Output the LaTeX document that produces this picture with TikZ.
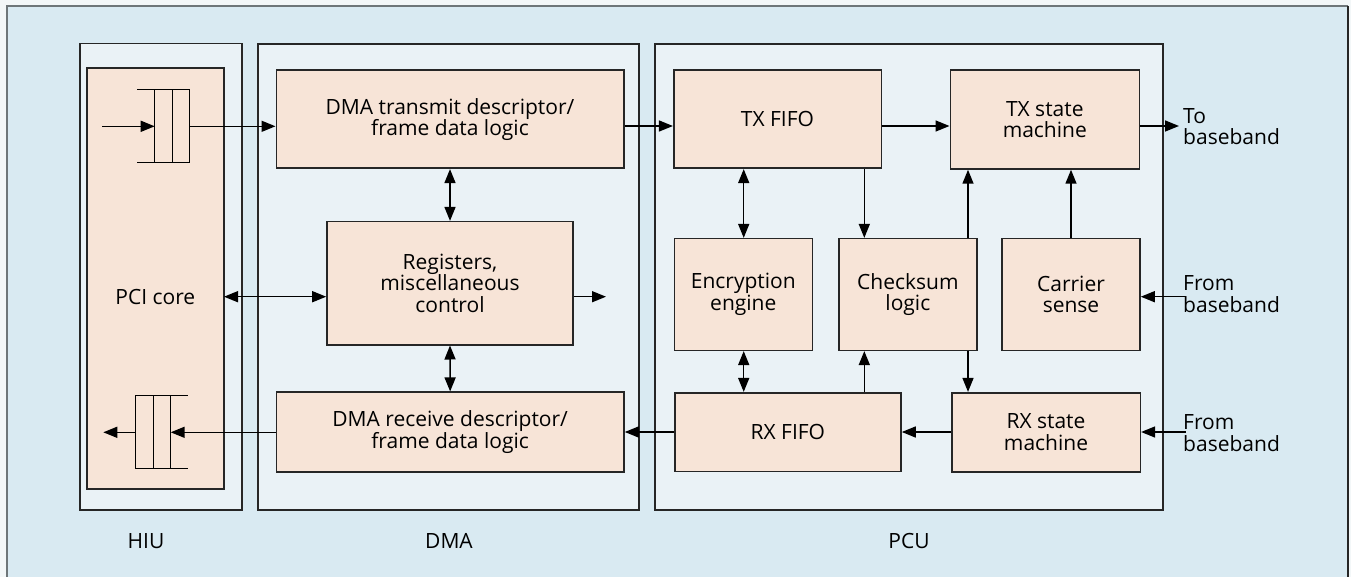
\documentclass[tikz,border=0pt]{standalone}
\usepackage{fontspec}
\setmainfont{Open Sans}
\usetikzlibrary{arrows.meta}
\definecolor{pagebg}{HTML}{F3F7F8}
\definecolor{framebg}{HTML}{D9EAF2}
\definecolor{modbg}{HTML}{EAF2F6}
\definecolor{blockbg}{HTML}{F7E4D7}
\definecolor{framegray}{HTML}{6E7679}
\tikzset{
  module/.style={draw=black!85, line width=1.6pt, fill=modbg},
  block/.style={draw=black!85, line width=1.6pt, fill=blockbg, rectangle, inner sep=0pt,
                align=center, font=\fontsize{21}{21.5}\selectfont},
  lbl/.style={font=\fontsize{21}{21.5}\selectfont, inner sep=0pt},
  sig/.style={line width=1.5pt, -{Triangle[length=14pt,width=11pt]}},
  bisig/.style={line width=1.5pt, {Triangle[length=14pt,width=11pt]}-{Triangle[length=14pt,width=11pt]}},
  fifo/.style={line width=1.5pt},
}
\begin{document}
\begin{tikzpicture}[x=1pt,y=-1pt]
\useasboundingbox (0,0) rectangle (1351,577);
% page and outer frame
\fill[pagebg] (0,0) rectangle (1351,577);
\fill[framebg] (7,6) rectangle (1348,577);
\draw[framegray, line width=2pt] (7,577) -- (7,6) -- (1348,6);
\draw[black!85, line width=2pt] (1348,6) -- (1348,577);

% functional units
\draw[module] (80,43.7) rectangle (242,510);
\draw[module] (257.7,44) rectangle (639,510);
\draw[module] (655,44) rectangle (1162.7,510);
\node[lbl] (hiulbl) at (146,541) {HIU};
\node[lbl] (dmalbl) at (449,541) {DMA};
\node[lbl] (pculbl) at (909,541) {PCU};

% HIU
\node[block, minimum width=137.3pt, minimum height=420.7pt] (pci) at (155.35,278.65) {};
\node[lbl] (pcilbl) at (155.35,296.7) {PCI core};

% transmit queue
\draw[fifo, fill=blockbg] (154.7,89.7) rectangle (189.7,162.7);
\draw[fifo] (137,89.7) -- (189.7,89.7) (137,162.7) -- (189.7,162.7)
            (172.3,89.7) -- (172.3,162.7);
\coordinate (qtxin) at (154.7,126.3);
\coordinate (qtxout) at (189.7,126.3);
\coordinate (qtxsrc) at (102,126.3);
% receive queue
\draw[fifo, fill=blockbg] (135.7,395.3) rectangle (170.7,468.7);
\draw[fifo] (135.7,395.3) -- (188,395.3) (135.7,468.7) -- (188,468.7)
            (153.3,395.3) -- (153.3,468.7);
\coordinate (qrxin) at (170.7,432.3);
\coordinate (qrxout) at (135.7,432.3);
\coordinate (qrxdst) at (103.3,432.3);

% DMA blocks
\node[block, minimum width=347.4pt, minimum height=98pt] (dmatx) at (450,119.3)
  {DMA transmit descriptor/\\frame data logic};
\node[block, minimum width=246pt, minimum height=123pt] (regs) at (450,283.2)
  {Registers,\\miscellaneous\\control};
\node[block, minimum width=347.7pt, minimum height=79.5pt] (dmarx) at (450.15,432)
  {DMA receive descriptor/\\frame data logic};

% PCU blocks
\node[block, minimum width=207.6pt, minimum height=98pt] (txfifo) at (777.5,119.3) {TX FIFO};
\node[block, minimum width=189pt, minimum height=98.7pt] (txsm) at (1044.8,119.6)
  {TX state\\machine};
\node[block, minimum width=138pt, minimum height=111.6pt] (enc) at (743.3,294.5)
  {Encryption\\engine};
\node[block, minimum width=137.7pt, minimum height=111.6pt] (chk) at (907.85,294.5)
  {Checksum\\logic};
\node[block, minimum width=138pt, minimum height=111.8pt] (car) at (1071,294.4)
  {Carrier\\sense};
\node[block, minimum width=226.3pt, minimum height=78.8pt] (rxfifo) at (787.85,432.1) {RX FIFO};
\node[block, minimum width=188.6pt, minimum height=79.3pt] (rxsm) at (1046,432.35)
  {RX state\\machine};

% external labels
\node[lbl, anchor=west, align=left] (tobb) at (1183,126.7) {To\\baseband};
\node[lbl, anchor=west, align=left] (frombbA) at (1183,294) {From\\baseband};
\node[lbl, anchor=west, align=left] (frombbB) at (1183,433) {From\\baseband};
\coordinate (txout) at (1179,126);
\coordinate (carin) at (1185.7,296.7);
\coordinate (rxin) at (1185.7,432);
\coordinate (ctrlL) at (224,296.7);
\coordinate (ctrlR) at (606,296.7);

% transmit path
\draw[sig] (qtxsrc) -- (qtxin);
\draw[sig] (qtxout) -- (qtxout -| dmatx.west);
\draw[sig] (dmatx.east |- 0,126) -- (txfifo.west |- 0,126);
\draw[sig] (txfifo.east |- 0,126) -- (txsm.west |- 0,126);
\draw[sig] (txsm.east |- 0,126) -- (txout);

% DMA internal
\draw[bisig] (dmatx.south) -- (regs.north);
\draw[bisig] (regs.south) -- (dmarx.north);
\draw[bisig] (ctrlL) -- (ctrlL -| regs.west);
\draw[sig] (regs.east |- ctrlR) -- (ctrlR);

% PCU internal
\draw[bisig] (743.7,0 |- txfifo.south) -- (743.7,0 |- enc.north);
\draw[bisig] (743.7,0 |- enc.south) -- (743.7,0 |- rxfifo.north);
\draw[sig] (864.3,0 |- txfifo.south) -- (864.3,0 |- chk.north);
\draw[sig] (864.3,0 |- rxfifo.north) -- (864.3,0 |- chk.south);
\draw[sig] (968,0 |- chk.north) -- (968,0 |- txsm.south);
\draw[sig] (968,0 |- chk.south) -- (968,0 |- rxsm.north);
\draw[sig] (car.north) -- (car.north |- txsm.south);
\draw[sig] (carin) -- (carin -| car.east);

% receive path
\draw[sig] (rxin) -- (rxin -| rxsm.east);
\draw[sig] (rxsm.west |- 0,432) -- (rxfifo.east |- 0,432);
\draw[sig] (rxfifo.west |- 0,432) -- (dmarx.east |- 0,432);
\draw[sig] (dmarx.west |- qrxin) -- (qrxin);
\draw[sig] (qrxout) -- (qrxdst);
\end{tikzpicture}
\end{document}
